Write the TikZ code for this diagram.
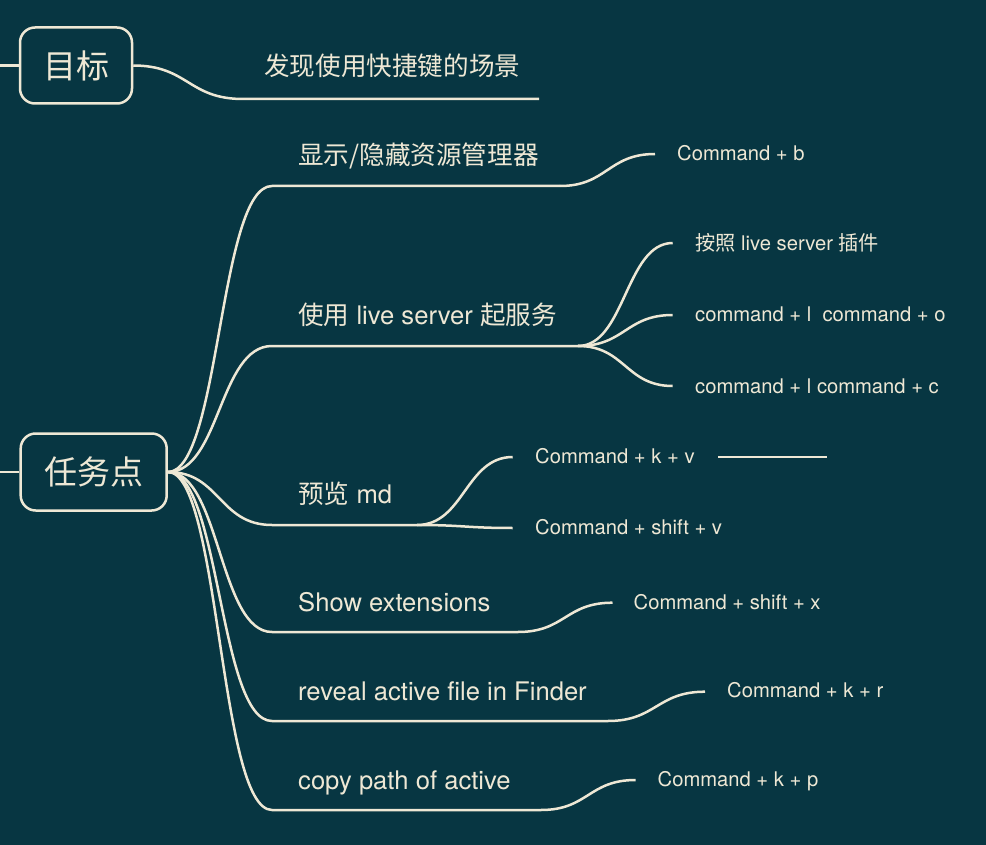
\documentclass[tikz,border=0pt]{standalone}
\usepackage{fontspec}
\setmainfont{TeX Gyre Heros}
\newfontfamily\cjk{Noto Sans CJK SC}
\definecolor{bgteal}{RGB}{7,54,66}
\definecolor{cream}{RGB}{238,232,213}

\begin{document}
\begin{tikzpicture}[x=1pt,y=-1pt,
  box/.style={draw=cream, line width=2.5pt, rounded corners=15pt, text=cream,
    font=\cjk\fontsize{33}{40}\selectfont, inner sep=0pt},
  topic/.style={anchor=base west, inner sep=0pt, text=cream, font=\fontsize{25.6}{30}\selectfont},
  leaf/.style={anchor=base west, inner sep=0pt, text=cream, font=\fontsize{20.2}{24}\selectfont},
  link/.style={draw=cream, line width=2.5pt}]
\fill [bgteal] (0,0) rectangle (986,845);
\useasboundingbox (0,0) rectangle (986,845);

% the two roots
\node [box, minimum width=112pt, minimum height=76pt] (mubiao) at (76,65.5) {目标};
\node [box, minimum width=146pt, minimum height=77pt] (renwu) at (93.7,472) {任务点};
\coordinate (in1) at (0,65.5);
\coordinate (in2) at (0,472);
\draw [link] (in1) -- (mubiao.west);
\draw [link] (in2) -- (renwu.west);

% goal
\coordinate (g1) at (243,99);
\coordinate (g2) at (539,99);
\draw [link] (mubiao.east) .. controls +(55,0) and +(-55,0) .. (g1) -- (g2);
\node [topic] (faxian) at (264,76) {\cjk 发现使用快捷键的场景};

% main branches
\coordinate (s1) at (272,186); \coordinate (e1) at (560,186);
\coordinate (s2) at (272,346); \coordinate (e2) at (578,346);
\coordinate (s3) at (272,525); \coordinate (e3) at (417,525);
\coordinate (s4) at (272,632); \coordinate (e4) at (518,632);
\coordinate (s5) at (272,721); \coordinate (e5) at (608,721);
\coordinate (s6) at (272,810); \coordinate (e6) at (541,810);
\draw [link] (renwu.east) .. controls +(52,0) and +(-53,0) .. (s1) -- (e1);
\draw [link] (renwu.east) .. controls +(52,0) and +(-53,0) .. (s2) -- (e2);
\draw [link] (renwu.east) .. controls +(52,0) and +(-53,0) .. (s3) -- (e3);
\draw [link] (renwu.east) .. controls +(52,0) and +(-53,0) .. (s4) -- (e4);
\draw [link] (renwu.east) .. controls +(52,0) and +(-53,0) .. (s5) -- (e5);
\draw [link] (renwu.east) .. controls +(52,0) and +(-53,0) .. (s6) -- (e6);

\node [topic] (xianshi) at (298,165) {\cjk 显示/隐藏资源管理器};
\node [topic] (live) at (298,325) {{\cjk 使用} live server {\cjk 起服务}};
\node [topic] (yulan) at (298,503) {{\cjk 预览} md};
\node [topic] (showext) at (298,611.7) {Show extensions};
\node [topic] (reveal) at (298,700) {reveal active file in Finder};
\node [topic] (copypath) at (298,789) {copy path of active};

% leaves
\coordinate (c1) at (655,154);
\coordinate (c21) at (672.7,243);
\coordinate (c22) at (672.7,315);
\coordinate (c23) at (672.7,386);
\coordinate (c31) at (512.7,457);
\coordinate (c32) at (512.7,528);
\coordinate (c4) at (612.5,602.7);
\coordinate (c5) at (705,691.7);
\coordinate (c6) at (635.6,780);
\draw [link] (e1) .. controls +(47,0) and +(-47,0) .. (c1);
\draw [link] (e2) .. controls +(47,0) and +(-47,0) .. (c21);
\draw [link] (e2) .. controls +(47,0) and +(-47,0) .. (c22);
\draw [link] (e2) .. controls +(47,0) and +(-47,0) .. (c23);
\draw [link] (e3) .. controls +(47,0) and +(-47,0) .. (c31);
\draw [link] (e3) .. controls +(47,0) and +(-47,0) .. (c32);
\draw [link] (e4) .. controls +(47,0) and +(-47,0) .. (c4);
\draw [link] (e5) .. controls +(48,0) and +(-48,0) .. (c5);
\draw [link] (e6) .. controls +(47,0) and +(-47,0) .. (c6);

\node [leaf] (cmdb) at (677,161) {Command + b};
\node [leaf] (anzhao) at (695,251) {{\cjk 按照} live server {\cjk 插件}};
\node [leaf] (cmdlo) at (695,321.5) {command + l\ \ command + o};
\node [leaf] (cmdlc) at (695,393) {command + l command + c};
\node [leaf] (cmdkv) at (535,463) {Command + k + v};
\node [leaf] (cmdsv) at (535,534) {Command + shift + v};
\node [leaf] (cmdsx) at (633.5,609.3) {Command + shift + x};
\node [leaf] (cmdkr) at (727,697.5) {Command + k + r};
\node [leaf] (cmdkp) at (657.5,786.7) {Command + k + p};

% loose line after k + v
\coordinate (f1) at (718,457);
\coordinate (f2) at (826.7,457);
\draw [link] (f1) -- (f2);

\end{tikzpicture}
\end{document}
